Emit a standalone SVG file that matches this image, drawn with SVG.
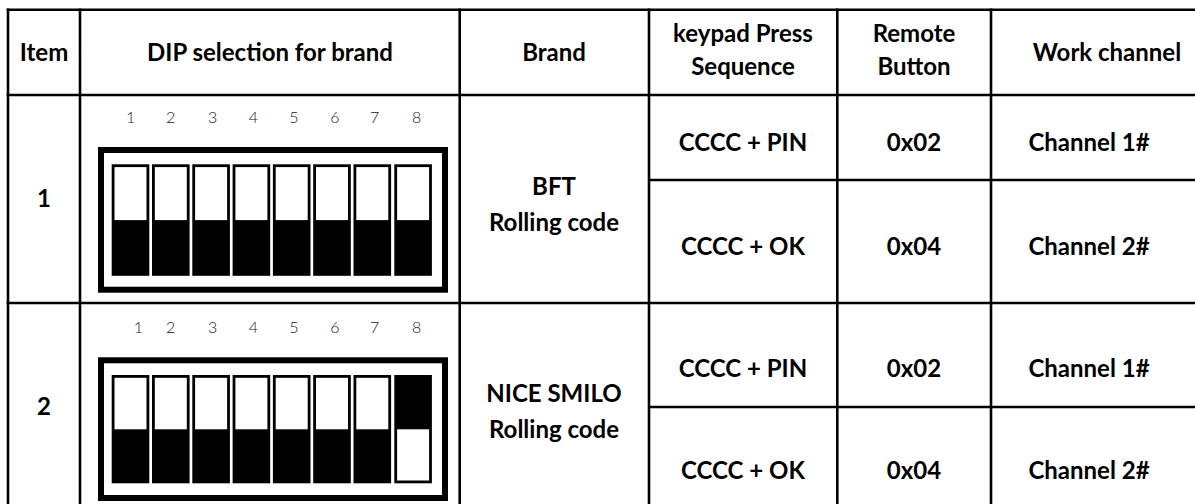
<svg xmlns="http://www.w3.org/2000/svg" width="1195" height="504" viewBox="0 0 1195 504">
<style>
.grid line{stroke:#000;stroke-width:2.6}
.t{font-family:Lato,"Liberation Sans",sans-serif;font-weight:700;font-size:24px;fill:#000;text-anchor:middle}
.n{font-family:Lato,"DejaVu Sans",sans-serif;font-weight:300;font-size:16px;fill:#222;text-anchor:middle}
.frame{fill:none;stroke:#000;stroke-width:6}
.sw{fill:#000}
.wh{fill:#fff}
</style>
<defs>
<g id="swUp">
<rect class="sw" x="0" y="0" width="37.6" height="111.5"/>
<rect class="wh" x="2.8" y="2.8" width="32" height="53"/>
</g>
<g id="swUp2">
<rect class="sw" x="0" y="0" width="37.6" height="108.3"/>
<rect class="wh" x="2.8" y="2.8" width="32" height="51.5"/>
</g>
<g id="swDown2">
<rect class="sw" x="0" y="0" width="37.6" height="108.3"/>
<rect class="wh" x="2.8" y="54.3" width="32" height="51.2"/>
</g>
</defs>
<rect width="1195" height="504" fill="#fff"/>

<g id="grid" class="grid">
<line x1="6.7" y1="9.8" x2="1195" y2="9.8"/>
<line x1="6.7" y1="95" x2="1195" y2="95"/>
<line x1="6.7" y1="303" x2="1195" y2="303"/>
<line x1="649" y1="180" x2="1195" y2="180"/>
<line x1="649" y1="407" x2="1195" y2="407"/>
<line x1="8" y1="8.5" x2="8" y2="504"/>
<line x1="80" y1="8.5" x2="80" y2="504"/>
<line x1="459.7" y1="8.5" x2="459.7" y2="504"/>
<line x1="649" y1="8.5" x2="649" y2="504"/>
<line x1="837.3" y1="8.5" x2="837.3" y2="504"/>
<line x1="991" y1="8.5" x2="991" y2="504"/>
</g>

<g id="header">
<text class="t" x="44" y="61">Item</text>
<text class="t" x="270" y="61">DIP selection for brand</text>
<text class="t" x="554" y="61">Brand</text>
<text class="t" x="743" y="42">keypad Press</text>
<text class="t" x="743" y="74.5">Sequence</text>
<text class="t" x="914" y="42">Remote</text>
<text class="t" x="914" y="74.5">Button</text>
<text class="t" x="1107" y="61">Work channel</text>
</g>

<g id="row1">
<text class="t" x="44" y="207">1</text>
<g id="dip1">
<g class="n">
<text x="130.7" y="123.3">1</text><text x="170.7" y="123.3">2</text><text x="212.7" y="123.3">3</text><text x="253.3" y="123.3">4</text><text x="294" y="123.3">5</text><text x="335" y="123.3">6</text><text x="374.7" y="123.3">7</text><text x="416.7" y="123.3">8</text>
</g>
<rect class="frame" x="101" y="150" width="344" height="139.7"/>
<use href="#swUp" x="111.7" y="164.3"/>
<use href="#swUp" x="152" y="164.3"/>
<use href="#swUp" x="192.3" y="164.3"/>
<use href="#swUp" x="232.6" y="164.3"/>
<use href="#swUp" x="272.9" y="164.3"/>
<use href="#swUp" x="313.2" y="164.3"/>
<use href="#swUp" x="353.5" y="164.3"/>
<use href="#swUp" x="394.3" y="164.3"/>
</g>
<text class="t" x="554" y="195">BFT</text>
<text class="t" x="554" y="231">Rolling code</text>
<text class="t" x="743" y="150.5">CCCC + PIN</text>
<text class="t" x="914" y="150.5">0x02</text>
<text class="t" x="1089" y="150.5">Channel 1#</text>
<text class="t" x="743" y="254.5">CCCC + OK</text>
<text class="t" x="914" y="254.5">0x04</text>
<text class="t" x="1089" y="254.5">Channel 2#</text>
</g>

<g id="row2">
<text class="t" x="44" y="414.5">2</text>
<g id="dip2">
<g class="n">
<text x="138.3" y="332.7">1</text><text x="170.7" y="332.7">2</text><text x="212.7" y="332.7">3</text><text x="253.3" y="332.7">4</text><text x="294" y="332.7">5</text><text x="335" y="332.7">6</text><text x="374.7" y="332.7">7</text><text x="416.7" y="332.7">8</text>
</g>
<rect class="frame" x="101" y="360.3" width="344" height="137.7"/>
<use href="#swUp2" x="111.7" y="375"/>
<use href="#swUp2" x="152" y="375"/>
<use href="#swUp2" x="192.3" y="375"/>
<use href="#swUp2" x="232.6" y="375"/>
<use href="#swUp2" x="272.9" y="375"/>
<use href="#swUp2" x="313.2" y="375"/>
<use href="#swUp2" x="353.5" y="375"/>
<use href="#swDown2" x="394.3" y="375"/>
</g>
<text class="t" x="554" y="402">NICE SMILO</text>
<text class="t" x="554" y="438">Rolling code</text>
<text class="t" x="743" y="376.5">CCCC + PIN</text>
<text class="t" x="914" y="376.5">0x02</text>
<text class="t" x="1089" y="376.5">Channel 1#</text>
<text class="t" x="743" y="478.5">CCCC + OK</text>
<text class="t" x="914" y="478.5">0x04</text>
<text class="t" x="1089" y="478.5">Channel 2#</text>
</g>
</svg>
